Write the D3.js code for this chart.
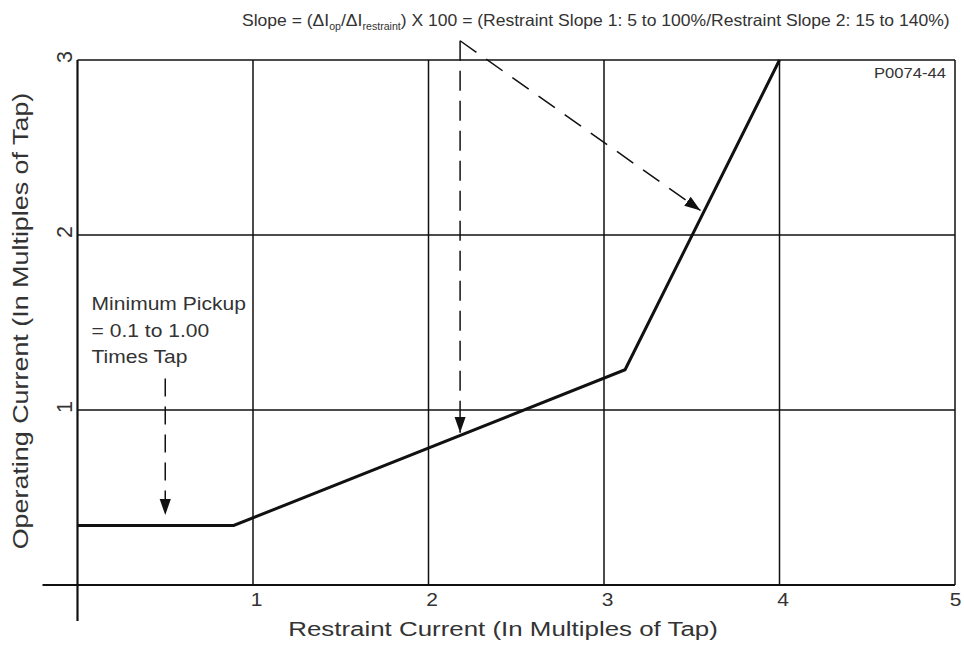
<!DOCTYPE html>
<html><head><meta charset="utf-8">
<script src="https://cdn.jsdelivr.net/npm/d3@7"></script>
<style>body{margin:0;background:#fff}svg{display:block}text{font-family:"Liberation Sans",Arial,sans-serif;fill:#333}</style>
</head><body><div id="c"></div>
<script>
const xTicks = [1, 2, 3, 4, 5];
const yTicks = [1, 2, 3];
const curveX = [0, 0.89, 3.12, 4.0];
const curveY = [0.34, 0.34, 1.23, 3.0];
const pickupLines = ["Minimum Pickup", "= 0.1 to 1.00", "Times Tap"];
const xTitle = "Restraint Current (In Multiples of Tap)";
const yTitle = "Operating Current (In Multiples of Tap)";
const figId = "P0074-44";

const W = 964, H = 650;
const svg = d3.select("#c").append("svg").attr("width", W).attr("height", H);
const x = d3.scaleLinear().domain([0, 5]).range([77.5, 955]);
const y = d3.scaleLinear().domain([0, 3]).range([585, 60]);

function stretch(sel, px, py, len, rot) {
  sel.each(function () {
    const w = this.getComputedTextLength();
    const s = len ? len / w : 1;
    d3.select(this).attr("x", 0).attr("y", 0)
      .attr("transform", `translate(${px},${py})${rot ? ` rotate(${rot})` : ""} scale(${s},1)`);
  });
}

svg.append("defs").append("marker").attr("id", "ah").attr("viewBox", "0 0 10 10")
  .attr("refX", 10).attr("refY", 5).attr("markerWidth", 16).attr("markerHeight", 16)
  .attr("markerUnits", "userSpaceOnUse").attr("orient", "auto")
  .append("path").attr("d", "M0,1.5 L10,5 L0,8.5 Z").attr("fill", "#111");

const g = svg.append("g");
g.selectAll(".vg").data(xTicks).join("line")
  .attr("x1", d => x(d)).attr("x2", d => x(d)).attr("y1", y(3)).attr("y2", y(0))
  .attr("stroke", "#111").attr("stroke-width", 1.5);
g.selectAll(".hg").data(yTicks).join("line")
  .attr("x1", x(0)).attr("x2", x(5)).attr("y1", d => y(d)).attr("y2", d => y(d))
  .attr("stroke", "#111").attr("stroke-width", 1.5);
g.append("line").attr("x1", x(0) - 35).attr("x2", x(5)).attr("y1", y(0)).attr("y2", y(0))
  .attr("stroke", "#111").attr("stroke-width", 2.2);
g.append("line").attr("x1", x(0)).attr("x2", x(0)).attr("y1", y(3)).attr("y2", y(0) + 36)
  .attr("stroke", "#111").attr("stroke-width", 2.2);

const xa = svg.append("g").attr("transform", `translate(0,${y(0)})`)
  .call(d3.axisBottom(x).tickValues(xTicks).tickSize(0).tickPadding(0).tickFormat(d3.format("d")));
xa.select(".domain").remove();
xa.selectAll(".tick text").attr("font-size", 17.5).attr("dy", null).attr("fill", "#333")
  .style("font-family", "Liberation Sans, Arial").attr("text-anchor", "middle")
  .attr("y", 0).attr("transform", (d, i, n) => `translate(${i === n.length - 1 ? 0 : 3},20.5) scale(1.2,1)`);

svg.selectAll(".yl").data(yTicks).join("text")
  .attr("transform", d => `translate(${x(0) - 6},${y(d) - 3}) rotate(-90)`)
  .attr("text-anchor", "middle").attr("font-size", 21.5).text(d => d);

svg.append("path").datum(curveX.map((v, i) => [v, curveY[i]]))
  .attr("d", d3.line().x(d => x(d[0])).y(d => y(d[1])))
  .attr("fill", "none").attr("stroke", "#111").attr("stroke-width", 3).attr("stroke-linejoin", "miter");

svg.append("text").attr("text-anchor", "middle").attr("font-size", 19.5).text(xTitle)
  .call(stretch, 503, 636, 430);
svg.append("text").attr("text-anchor", "middle").attr("font-size", 21.5).text(yTitle)
  .call(stretch, 28, 321, 457, -90);

const t = svg.append("text").attr("font-size", 16.5);
t.append("tspan").text("Slope = (ΔI");
t.append("tspan").attr("font-size", 10).attr("dy", 4).text("op");
t.append("tspan").attr("dy", -4).text("/ΔI");
t.append("tspan").attr("font-size", 10).attr("dy", 4).text("restraint");
t.append("tspan").attr("dy", -4).text(") X 100 = (Restraint Slope 1: 5 to 100%/Restraint Slope 2: 15 to 140%)");
t.call(stretch, 242, 26, 708);

svg.append("text").attr("font-size", 14).text(figId).call(stretch, 874, 78, 72);

svg.selectAll(".pk").data(pickupLines).join("text").attr("font-size", 18).text(d => d)
  .each(function (d, i) {
    d3.select(this).call(stretch, x(0.08), 310 + i * 26.5, this.getComputedTextLength() * 1.17);
  });
svg.append("line").attr("x1", x(0.5)).attr("x2", x(0.5)).attr("y1", y(1.18)).attr("y2", y(0.4))
  .attr("stroke", "#111").attr("stroke-width", 1.5).attr("stroke-dasharray", "18,10").attr("marker-end", "url(#ah)");

svg.append("line").attr("x1", x(2.18)).attr("x2", x(2.18)).attr("y1", y(3.11)).attr("y2", y(0.87))
  .attr("stroke", "#111").attr("stroke-width", 1.5).attr("stroke-dasharray", "20,10").attr("marker-end", "url(#ah)");
svg.append("line").attr("x1", x(2.18)).attr("x2", x(3.55)).attr("y1", y(3.11)).attr("y2", y(2.14))
  .attr("stroke", "#111").attr("stroke-width", 1.5).attr("stroke-dasharray", "20,12").attr("marker-end", "url(#ah)");
</script></body></html>
